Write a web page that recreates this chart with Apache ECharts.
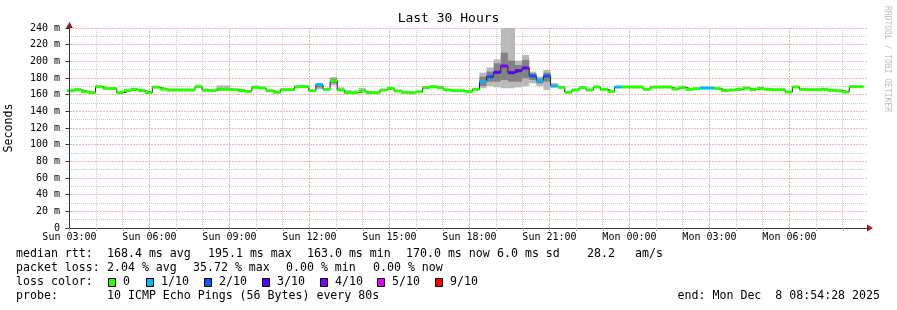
<!DOCTYPE html>
<html><head><meta charset="utf-8">
<script src="https://cdn.jsdelivr.net/npm/echarts@6/dist/echarts.min.js"></script>
<style>html,body{margin:0;padding:0;background:#fff}#c{width:897px;height:310px}</style>
</head><body><div id="c"></div>
<script>
const MONO = "'DejaVu Sans Mono', monospace";
// x values: hours relative to Sun 03:00; window of 30 h ending Mon Dec 8 08:54:28
const X_MIN = -0.0924, X_MAX = 29.9076;
const STEP_START = -0.0924;      // first consolidated step (hours)
const STEP_HOURS = 16 / 60;      // consolidated step length
const X_TICK_LABELS = ['Sun 03:00','Sun 06:00','Sun 09:00','Sun 12:00','Sun 15:00','Sun 18:00','Sun 21:00','Mon 00:00','Mon 03:00','Mon 06:00'];
const Y_TICK_LABELS = ['0','20 m','40 m','60 m','80 m','100 m','120 m','140 m','160 m','180 m','200 m','220 m','240 m'];

// median rtt per step (ms)
const MEDIAN = [
 164.8,166.0,163.6,162.4,169.6,167.6,167.3,162.4,164.8,166.4,
 164.8,162.4,169.0,166.8,165.6,165.6,165.6,165.6,169.6,165.2,
 164.8,166.4,166.4,166.0,164.8,164.0,168.8,168.0,164.8,162.8,
 166.0,166.0,169.6,169.6,164.8,172.0,166.4,176.6,165.6,162.4,
 162.4,164.4,162.4,162.4,165.6,167.6,164.4,162.8,162.4,163.6,
 168.4,169.6,168.4,165.6,164.8,164.8,163.6,166.4,175.6,181.6,
 186.8,194.4,186.4,188.8,192.0,182.4,176.8,182.4,170.4,168.8,
 162.8,165.6,168.4,165.6,169.2,166.4,164.0,169.2,169.2,169.2,
 169.2,166.4,169.0,169.2,169.2,166.8,168.8,166.4,167.2,168.0,
 168.0,167.2,164.8,165.6,166.4,168.0,166.0,167.6,166.4,166.0,
 166.0,163.2,169.2,166.4,166.0,166.0,166.4,165.2,164.8,163.2,
 169.6,169.6
];
// packet loss (pings lost out of 10) for steps with loss
const LOSS_STEPS  = [35,58,59,60,61,62,63,64,65,66,67,68,77,89,90];
const LOSS_COUNTS = [ 1, 1, 2, 3, 4, 3, 3, 3, 2, 1, 2, 1, 1, 1, 1];
const LOSS_LEVELS = [0,1,2,3,4,5,9];
const LOSS_LABELS = ['0','1/10','2/10','3/10','4/10','5/10','9/10'];
const LOSS_COLORS = ['#26ff00','#00b8ff','#0059ff','#5e00ff','#7e00ff','#dd00ff','#ff0000'];

// smoke: full ping spread per step
const SMOKE_STEPS = [21,22,24,26,35,37,38,39,41,58,59,60,61,62,63,64,65,66,67,68];
const SMOKE_LO = [165.6,165.6,164.0,168.0,166.4,171.2,165.6,162.4,164.4,167.6,170.4,168.8,167.6,167.6,168.8,170.4,173.6,170.4,165.6,168.8];
const SMOKE_HI = [171.2,171.2,167.2,170.8,174.0,181.2,168.8,165.6,168.0,186.4,192.8,202.4,240.0,240.0,200.8,207.6,187.6,181.6,189.6,174.0];
// inner (denser) part of the smoke
const CORE_STEPS = [35,37,58,59,60,61,62,63,64,65,66,67];
const CORE_LO = [168.8,173.6,170.4,175.6,175.6,177.6,175.6,175.6,179.6,177.6,173.6,175.6];
const CORE_HI = [173.2,179.2,181.6,187.6,197.6,210.4,200.8,195.6,201.6,185.6,179.6,186.4];

// grid: hourly minor / 3-hourly major verticals, 10 ms minor / 20 ms major horizontals
const GRID_HOURS = [0,1,2,3,4,5,6,7,8,9,10,11,12,13,14,15,16,17,18,19,20,21,22,23,24,25,26,27,28,29];
const GRID_VALUES = [10,20,30,40,50,60,70,80,90,100,110,120,130,140,150,160,170,180,190,200,210,220,230,240];

const stepT = i => STEP_START + i * STEP_HOURS;
const lossOf = i => { const k = LOSS_STEPS.indexOf(i); return k < 0 ? 0 : LOSS_COUNTS[k]; };

const lineData = MEDIAN.map((m, i) => [stepT(i), m]);
lineData.push([stepT(MEDIAN.length), MEDIAN[MEDIAN.length - 1]]);
const bandData = MEDIAN.map((m, i) => [stepT(i), stepT(i + 1), m, m, LOSS_LEVELS.indexOf(lossOf(i))]);
const smokeData = SMOKE_STEPS.map((s, j) => [stepT(s), stepT(s + 1), SMOKE_LO[j], SMOKE_HI[j]]);
const coreData = CORE_STEPS.map((s, j) => [stepT(s), stepT(s + 1), CORE_LO[j], CORE_HI[j]]);
const gridSpec = GRID_HOURS.map(h => ({ vertical: true, v: h, major: h % 3 === 0 }))
  .concat(GRID_VALUES.map(v => ({ vertical: false, v: v, major: v % 20 === 0 })));
const gridData = gridSpec.map(g => g.vertical ? [g.v, 120] : [14, g.v]);

const GRID_MINOR = '#cccccc', GRID_MAJOR = '#f4b4b4', AXIS = '#333', ARROW = '#9b1c1c';

function gridItem(params, api) {
  const g = gridSpec[params.dataIndex];
  let x1, y1, x2, y2;
  if (g.vertical) {
    const a = api.coord([g.v, 0]), b = api.coord([g.v, 240]);
    x1 = x2 = Math.round(a[0] - 0.5) + 0.5; y1 = Math.round(b[1]); y2 = Math.round(a[1]);
  } else {
    const a = api.coord([X_MIN, g.v]), b = api.coord([X_MAX, g.v]);
    y1 = y2 = Math.round(a[1] - 0.5) + 0.5; x1 = Math.round(a[0]); x2 = Math.round(b[0]);
  }
  return { type: 'line', z2: g.major ? 2 : 1, shape: { x1: x1, y1: y1, x2: x2, y2: y2 },
    style: { stroke: g.major ? GRID_MAJOR : GRID_MINOR, fill: null, lineWidth: 1, lineDash: g.major ? [2, 1] : [1, 1] } };
}
function rectItem(color) {
  return function (params, api) {
    const a = api.coord([api.value(0), api.value(3)]);
    const b = api.coord([api.value(1), api.value(2)]);
    return { type: 'rect', shape: { x: a[0], y: a[1], width: b[0] - a[0], height: b[1] - a[1] }, style: { fill: color } };
  };
}
function bandItem(params, api) {
  const a = api.coord([api.value(0), api.value(2)]);
  const b = api.coord([api.value(1), api.value(2)]);
  return { type: 'rect', shape: { x: a[0], y: a[1] - 1.5, width: b[0] - a[0], height: 3 }, style: { fill: LOSS_COLORS[api.value(4)] } };
}

const baseX = { type: 'value', position: 'bottom', offset: 0, min: X_MIN, max: X_MAX, gridIndex: 0, axisLabel: { show: false }, axisTick: { show: false }, axisLine: { show: false }, splitLine: { show: false } };
const baseY = { type: 'value', position: 'left', offset: 0, min: 0, max: 240, gridIndex: 0, axisLabel: { show: false }, axisTick: { show: false }, axisLine: { show: false }, splitLine: { show: false } };

const option = {
  animation: false,
  backgroundColor: '#fff',
  title: { text: 'Last 30 Hours', left: 'center', top: 12, padding: 0,
    textStyle: { fontFamily: MONO, fontSize: 13, fontWeight: 'normal', color: '#000' } },
  grid: { left: 67, top: 28, width: 800, height: 200, containLabel: false, outerBoundsMode: 'none' },
  xAxis: [
    Object.assign({}, baseX, { splitNumber: 30, minInterval: 1, maxInterval: 1, z: 6,
      axisLine: { show: true, lineStyle: { color: AXIS, width: 1 } },
      axisTick: { show: true, length: 3, lineStyle: { color: '#e88' } },
      axisLabel: { show: true, showMinLabel: false, showMaxLabel: false, margin: 4, fontFamily: MONO, fontSize: 10, color: '#000',
        formatter: v => { const h = Math.round(v); if (Math.abs(v - h) > 1e-6 || h % 3 !== 0) return ''; return X_TICK_LABELS[h / 3] || ''; } } }),
    Object.assign({}, baseX, { z: 6, axisLine: { show: true, symbol: ['none', 'triangle'], symbolSize: [7, 6], symbolOffset: [0, 3], lineStyle: { color: ARROW, width: 0 } } })
  ],
  yAxis: [
    Object.assign({}, baseY, { interval: 20, z: 6,
      name: 'Seconds', nameLocation: 'middle', nameGap: 52, nameRotate: 90,
      nameTextStyle: { fontFamily: MONO, fontSize: 11.6, color: '#000' },
      axisLine: { show: true, lineStyle: { color: AXIS, width: 1 } },
      axisTick: { show: true, length: 4, lineStyle: { color: AXIS } },
      axisLabel: { show: true, margin: 7, fontFamily: MONO, fontSize: 10, color: '#000',
        formatter: v => Y_TICK_LABELS[Math.round(v / 20)] || '' } }),
    Object.assign({}, baseY, { z: 6, axisLine: { show: true, symbol: ['none', 'triangle'], symbolSize: [7, 6], symbolOffset: [0, 3], lineStyle: { color: ARROW, width: 0 } } })
  ],
  series: [
    { type: 'custom', name: 'grid', xAxisIndex: 0, yAxisIndex: 0, z: 0, clip: false,
      encode: { x: 0, y: 1 }, renderItem: gridItem, data: gridData, silent: true },
    { type: 'custom', name: 'smoke', xAxisIndex: 0, yAxisIndex: 0, z: 2, clip: true,
      encode: { x: [0, 1], y: [2, 3] }, renderItem: rectItem('#b9b9b9'), data: smokeData, silent: true },
    { type: 'custom', name: 'smoke core', xAxisIndex: 0, yAxisIndex: 0, z: 3, clip: true,
      encode: { x: [0, 1], y: [2, 3] }, renderItem: rectItem('#828282'), data: coreData, silent: true },
    { type: 'line', name: 'median', xAxisIndex: 0, yAxisIndex: 0, z: 4, step: 'end', showSymbol: false, symbol: 'none',
      lineStyle: { color: '#202020', width: 1 }, data: lineData, silent: true },
    { type: 'custom', name: 'median loss', xAxisIndex: 0, yAxisIndex: 0, z: 5, clip: true,
      encode: { x: [0, 1], y: [2, 3] }, renderItem: bandItem, data: bandData, silent: true }
  ],
  graphic: []
};

// legend / footer text (RRDtool style)
const T = (x, y, text, align) => ({ type: 'text', x: x, y: y, silent: true,
  style: { text: text, font: '11.6px ' + MONO, fill: '#000', align: align || 'left', verticalAlign: 'middle' } });
const rows = [
  [254, [[16,'median rtt:'],[107,'168.4 ms avg'],[208,'195.1 ms max'],[307,'163.0 ms min'],[406,'170.0 ms now'],[497,'6.0 ms sd'],[587,'28.2'],[635,'am/s']]],
  [268, [[16,'packet loss:'],[107,'2.04 % avg'],[193,'35.72 % max'],[286,'0.00 % min'],[373,'0.00 % now']]],
  [282, [[16,'loss color:']]],
  [296, [[16,'probe:'],[107,'10 ICMP Echo Pings (56 Bytes) every 80s']]]
];
rows.forEach(r => r[1].forEach(it => option.graphic.push(T(it[0], r[0], it[1]))));
option.graphic.push(T(880, 296, 'end: Mon Dec  8 08:54:28 2025', 'right'));
const BOX_X = [108, 146, 204, 262, 320, 377, 435];
LOSS_LABELS.forEach((lab, i) => {
  option.graphic.push({ type: 'rect', silent: true, shape: { x: BOX_X[i] + 0.5, y: 278.5, width: 7, height: 8 },
    style: { fill: LOSS_COLORS[i], stroke: '#000', lineWidth: 1 } });
  option.graphic.push(T(BOX_X[i] + 15, 282, lab));
});
option.graphic.push({ type: 'text', x: 887, y: 59, rotation: -Math.PI / 2, silent: true,
  style: { text: 'RRDTOOL / TOBI OETIKER', font: '8px ' + MONO, fill: '#bdbdbd', align: 'center', verticalAlign: 'middle' } });

const chart = echarts.init(document.getElementById('c'), null, { renderer: 'canvas' });
chart.setOption(option);
</script></body></html>
